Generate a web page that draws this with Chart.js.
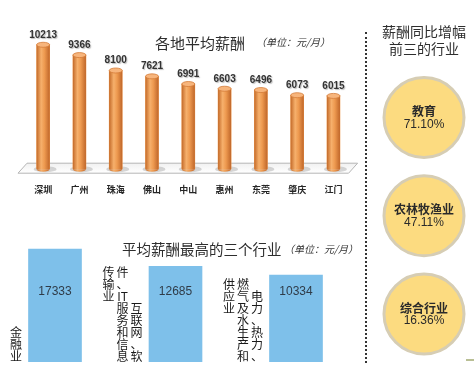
<!DOCTYPE html>
<html lang="zh">
<head>
<meta charset="utf-8">
<script src="https://cdn.jsdelivr.net/npm/chart.js@4.4.1/dist/chart.umd.min.js"></script>
<style>
  body { margin: 0; background: #fff; font-family: "Noto Sans CJK SC", sans-serif; }
  #pagina { position: relative; width: 474px; height: 368px; overflow: hidden; }
  .caixa { position: absolute; }
  .titulo { position: absolute; color: #2e2e2e; white-space: nowrap; line-height: 1; }
  .unidade { position: absolute; color: #333; white-space: nowrap; line-height: 1; font-size: 10px; font-style: italic; }
</style>
</head>
<body>
<div id="pagina">
  <div class="caixa" style="left:0; top:0; width:360px; height:225px;"><canvas id="cidadesChart"></canvas></div>
  <div class="caixa" style="left:-10px; top:225px; width:370px; height:143px;"><canvas id="setoresChart"></canvas></div>
  <div class="caixa" style="left:366px; top:60px; width:108px; height:308px;"><canvas id="crescimentoChart"></canvas></div>

  <div class="titulo" style="left:155px; top:35px; font-size:15px;">各地平均薪酬</div>
  <div class="unidade" style="left:256px; top:37px;">（单位：元/月）</div>

  <div class="titulo" style="left:122px; top:242px; font-size:14.5px;">平均薪酬最高的三个行业</div>
  <div class="unidade" style="left:284px; top:244px;">（单位：元/月）</div>

  <div class="titulo" style="left:376px; top:23px; width:96px; text-align:center; font-size:14px; line-height:17px;">薪酬同比增幅<br>前三的行业</div>

  <div style="position:absolute; left:365px; top:32px; height:331px; border-left:2px dotted #333;"></div>
  <div style="position:absolute; left:466px; top:359px; width:8px; height:2px; background:#b9bf95;"></div>
</div>

<script>
// =========================================
// DADOS
// =========================================
const cidades = ['深圳', '广州', '珠海', '佛山', '中山', '惠州', '东莞', '肇庆', '江门'];
const salarioCidades = [10213, 9366, 8100, 7621, 6991, 6603, 6496, 6073, 6015];

// cada setor: colunas de texto vertical, da direita para a esquerda
const setores = [
    ['金融业'],
    ['互联网、软', '件、IT服务和信息', '传输业'],
    ['电力、热力、', '燃气及水生产和', '供应业']
];
const salarioSetores = [17333, 12685, 10334];

const setoresCrescimento = ['教育', '农林牧渔业', '综合行业'];
const taxaCrescimento = [71.10, 47.11, 16.36];

// =========================================
// 1. GRÁFICO DAS CIDADES (cilindros laranja)
// =========================================
const cilindroPlugin = {
    id: 'cilindro',
    beforeDatasetsDraw(chart) {
        const { ctx, chartArea: a } = chart;
        ctx.save();
        // chão em perspetiva
        ctx.beginPath();
        ctx.moveTo(a.left - 7, a.bottom + 4);
        ctx.lineTo(a.left + 2, a.bottom - 6);
        ctx.lineTo(a.right + 6, a.bottom - 6);
        ctx.lineTo(a.right - 3, a.bottom + 4);
        ctx.closePath();
        const g = ctx.createLinearGradient(0, a.bottom - 6, 0, a.bottom + 4);
        g.addColorStop(0, '#f1f1f1');
        g.addColorStop(1, '#ffffff');
        ctx.fillStyle = g;
        ctx.fill();
        ctx.strokeStyle = '#b5b5b5';
        ctx.lineWidth = 1;
        ctx.stroke();
        // sombras na base
        chart.getDatasetMeta(0).data.forEach(bar => {
            ctx.beginPath();
            ctx.ellipse(bar.x + 2, bar.base, bar.width / 2 + 5, 3, 0, 0, Math.PI * 2);
            ctx.fillStyle = 'rgba(140,140,140,0.35)';
            ctx.fill();
        });
        ctx.restore();
    },
    afterDatasetsDraw(chart) {
        const { ctx } = chart;
        ctx.save();
        chart.getDatasetMeta(0).data.forEach((bar, i) => {
            const w = bar.width;
            const esq = bar.x - w / 2;
            const g = ctx.createLinearGradient(esq, 0, esq + w, 0);
            g.addColorStop(0, '#c46b2a');
            g.addColorStop(0.35, '#f6b06c');
            g.addColorStop(0.6, '#ee9a50');
            g.addColorStop(1, '#c0672a');
            ctx.fillStyle = g;
            ctx.fillRect(esq, bar.y, w, bar.base - bar.y);
            ctx.beginPath();
            ctx.ellipse(bar.x, bar.base, w / 2, 2.5, 0, 0, Math.PI);
            ctx.fill();
            // tampa
            ctx.beginPath();
            ctx.ellipse(bar.x, bar.y, w / 2, 2.5, 0, 0, Math.PI * 2);
            ctx.fillStyle = '#f7b57c';
            ctx.fill();
            ctx.strokeStyle = '#d47c3a';
            ctx.lineWidth = 0.8;
            ctx.stroke();
            // valor
            ctx.font = 'bold 10px "Liberation Sans"';
            ctx.fillStyle = '#333';
            ctx.textAlign = 'center';
            ctx.textBaseline = 'middle';
            ctx.shadowColor = 'rgba(0,0,0,0.25)';
            ctx.shadowOffsetX = 1;
            ctx.shadowOffsetY = 1;
            ctx.shadowBlur = 1;
            ctx.fillText(String(salarioCidades[i]), bar.x, bar.y - 10);
            ctx.shadowColor = 'transparent';
        });
        ctx.restore();
    }
};

new Chart(document.getElementById('cidadesChart'), {
    type: 'bar',
    data: {
        labels: cidades,
        datasets: [{
            data: salarioCidades,
            backgroundColor: '#ee9a50',
            barThickness: 13
        }]
    },
    options: {
        responsive: true,
        maintainAspectRatio: false,
        animation: false,
        layout: { padding: { left: 25, right: 8.4, top: 23, bottom: 15 } },
        plugins: { legend: { display: false }, tooltip: { enabled: false } },
        scales: {
            x: {
                grid: { display: false, drawTicks: false },
                border: { display: false },
                ticks: {
                    padding: 15,
                    color: '#262626',
                    font: { family: '"Noto Sans CJK SC"', size: 9, weight: 'bold' }
                }
            },
            y: { display: false, min: 0, max: 12000 }
        }
    },
    plugins: [cilindroPlugin]
});

// =========================================
// 2. TRÊS SETORES COM SALÁRIO MAIS ALTO
// =========================================
const setoresPlugin = {
    id: 'setoresTexto',
    afterDatasetsDraw(chart) {
        const { ctx, chartArea: a } = chart;
        const celula = 12;
        ctx.save();
        ctx.textAlign = 'center';
        ctx.textBaseline = 'middle';
        chart.getDatasetMeta(0).data.forEach((bar, i) => {
            ctx.font = '12px "Liberation Sans"';
            ctx.fillStyle = '#2f3b48';
            ctx.fillText(String(salarioSetores[i]), bar.x, a.top + 52);

            const colunas = setores[i].map(s => s.match(/[A-Za-z0-9]+|./g));
            const maior = Math.max(...colunas.map(c => c.length));
            const topo = a.bottom - maior * celula;
            ctx.font = '12px "Noto Sans CJK SC"';
            ctx.fillStyle = '#1a1a1a';
            colunas.forEach((chars, j) => {
                const cx = bar.x - bar.width / 2 - 12.5 - j * 14;
                const y0 = j === 0 ? a.bottom - chars.length * celula : topo;
                chars.forEach((ch, k) => ctx.fillText(ch, cx, y0 + k * celula + celula / 2));
            });
        });
        ctx.restore();
    }
};

new Chart(document.getElementById('setoresChart'), {
    type: 'bar',
    data: {
        labels: setores,
        datasets: [{
            data: salarioSetores,
            base: -13000,
            backgroundColor: '#7ec0ea',
            barThickness: 53
        }]
    },
    options: {
        responsive: true,
        maintainAspectRatio: false,
        animation: false,
        layout: { padding: { left: 4.75, right: 3.75, top: 15, bottom: 6 } },
        plugins: { legend: { display: false }, tooltip: { enabled: false } },
        scales: {
            x: { display: false },
            y: { display: false, min: -13000, max: 19750 }
        }
    },
    plugins: [setoresPlugin]
});

// =========================================
// 3. CÍRCULOS DO CRESCIMENTO
// =========================================
const circulosPlugin = {
    id: 'circulosTexto',
    afterDatasetsDraw(chart) {
        const { ctx } = chart;
        ctx.save();
        ctx.textAlign = 'center';
        ctx.textBaseline = 'middle';
        ctx.fillStyle = '#2a2a2a';
        chart.getDatasetMeta(0).data.forEach((pt, i) => {
            ctx.font = 'bold 12px "Noto Sans CJK SC"';
            ctx.fillText(setoresCrescimento[i], pt.x, pt.y - 6);
            ctx.font = '12px "Liberation Sans"';
            ctx.fillText(taxaCrescimento[i].toFixed(2) + '%', pt.x, pt.y + 7);
        });
        ctx.restore();
    }
};

new Chart(document.getElementById('crescimentoChart'), {
    type: 'scatter',
    data: {
        datasets: [{
            data: setoresCrescimento.map(nome => ({ x: 0, y: nome })),
            pointRadius: 40,
            backgroundColor: '#fcdb80',
            borderColor: '#d6cdb4',
            borderWidth: 3,
            clip: false
        }]
    },
    options: {
        responsive: true,
        maintainAspectRatio: false,
        animation: false,
        layout: { autoPadding: false, padding: { left: 8, right: 0, top: 8.4, bottom: 4.9 } },
        plugins: { legend: { display: false }, tooltip: { enabled: false } },
        scales: {
            x: { display: false, type: 'linear', min: -1, max: 1 },
            y: { display: false, type: 'category', labels: setoresCrescimento, offset: true }
        }
    },
    plugins: [circulosPlugin]
});
</script>
</body>
</html>
